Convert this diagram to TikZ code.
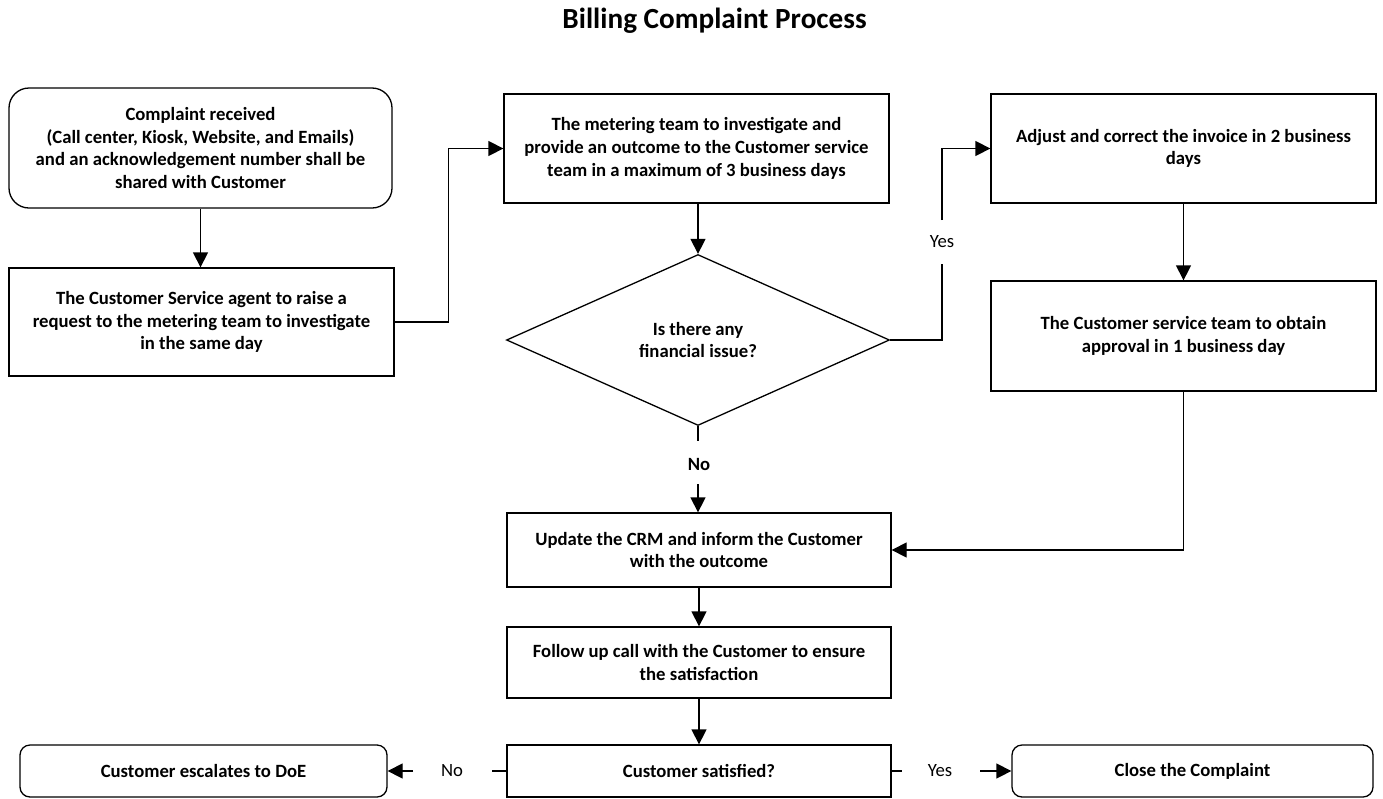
\documentclass[tikz,border=0pt]{standalone}
\usepackage{fontspec}
\setmainfont{Carlito}
\usetikzlibrary{arrows.meta,shapes.geometric}
\newcommand\bodyfnt{\fontsize{18.7}{22.8}\selectfont\bfseries}
\newcommand\lblfnt{\fontsize{18.7}{22.8}\selectfont}
\tikzset{
  box/.style={draw=black, line width=1.3pt, inner sep=0pt, align=center, font=\bodyfnt, fill=white},
  rbox/.style={box, rounded corners=20pt},
  sbox/.style={box, rounded corners=10pt},
  dbox/.style={box, shape=diamond, aspect=2.2},
  conn/.style={line width=1.3pt, draw=black},
  arr/.style={conn, -{Triangle[length=15pt,width=15pt]}},
  lbl/.style={font=\lblfnt, inner sep=0pt},
  blbl/.style={font=\bodyfnt, inner sep=0pt}
}
\begin{document}
\begin{tikzpicture}[x=1pt,y=-1pt]
\useasboundingbox (0,0) rectangle (1383,798);
\node[font=\fontsize{29.2}{32}\selectfont\bfseries, inner sep=0pt] (title) at (714.5,21) {Billing Complaint Process};

\node[rbox, minimum width=383pt, minimum height=120pt] (recv) at (200.5,148) {Complaint received\\(Call center, Kiosk, Website, and Emails)\\and an acknowledgement number shall be\\shared with Customer};
\node[box, minimum width=385pt, minimum height=108pt] (raise) at (201.5,322) {The Customer Service agent to raise a\\request to the metering team to investigate\\in the same day};
\node[box, minimum width=385pt, minimum height=109pt] (meter) at (696.5,148.5) {The metering team to investigate and\\provide an outcome to the Customer service\\team in a maximum of 3 business days};
\node[dbox, minimum width=383pt, minimum height=171pt] (q) at (698,340) {Is there any\\financial issue?};
\node[box, minimum width=385pt, minimum height=109pt] (adj) at (1183.5,148.5) {Adjust and correct the invoice in 2 business\\days};
\node[box, minimum width=385pt, minimum height=110pt] (appr) at (1183.5,336) {The Customer service team to obtain\\approval in 1 business day};
\node[box, minimum width=384pt, minimum height=74pt] (update) at (699,550) {Update the CRM and inform the Customer\\with the outcome};
\node[box, minimum width=384pt, minimum height=71pt] (follow) at (699,662.5) {Follow up call with the Customer to ensure\\the satisfaction};
\node[box, minimum width=384pt, minimum height=52pt] (sat) at (699,771) {Customer satisfied?};
\node[sbox, minimum width=367pt, minimum height=52pt] (esc) at (203.5,771) {Customer escalates to DoE};
\node[sbox, minimum width=361pt, minimum height=52pt] (close) at (1192.5,771) {Close the Complaint};

% labels
\node[lbl] (yeslbl) at (942,242) {Yes};
\node[blbl] (nolbl) at (699,464) {No};
\node[lbl] (nolbl2) at (452,771) {No};
\node[lbl] (yeslbl2) at (940,771) {Yes};

\coordinate (yesA) at (942,264);
\coordinate (yesB) at (942,220);
\coordinate (noA) at (698,441);
\coordinate (noB) at (698,484);
\coordinate (noC) at (492,771);
\coordinate (noD) at (413,771);
\coordinate (yesC) at (902,771);
\coordinate (yesD) at (980,771);

% connectors
\draw[arr] (recv.south) -- (recv.south |- raise.north);
\draw[arr] (raise.east) -- ++(54pt,0) |- (meter.west);
\draw[arr] (meter.south -| q.north) -- (q.north);
\draw[conn] (q.east) -| (yesA);
\draw[arr] (yesB) |- (adj.west);
\draw[arr] (adj.south) -- (appr.north);
\draw[arr] (appr.south) |- (update.east);
\draw[conn] (q.south) -- (noA);
\draw[arr] (noB) -- (noB |- update.north);
\draw[arr] (update.south) -- (follow.north);
\draw[arr] (follow.south) -- (sat.north);
\draw[conn] (sat.west) -- (noC);
\draw[arr] (noD) -- (esc.east);
\draw[conn] (sat.east) -- (yesC);
\draw[arr] (yesD) -- (close.west);
\end{tikzpicture}
\end{document}
